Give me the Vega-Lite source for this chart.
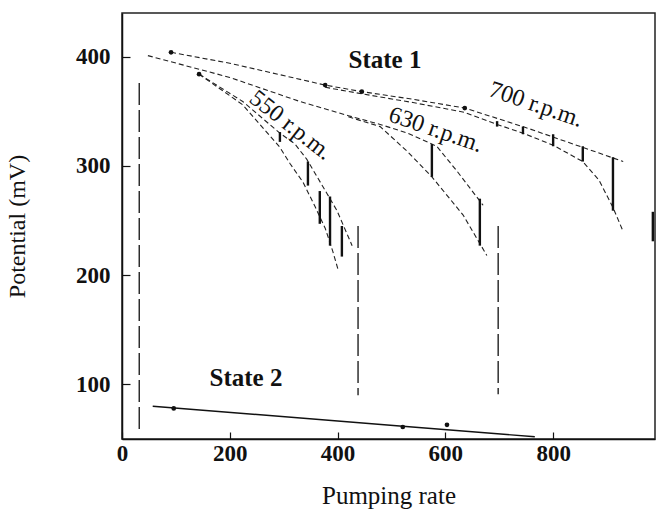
{
  "$schema": "https://vega.github.io/schema/vega-lite/v6.json",
  "width": 533,
  "height": 426,
  "autosize": {"type": "none"},
  "padding": {"left": 122, "top": 13, "right": 1, "bottom": 76},
  "background": "white",
  "config": {
    "view": {"stroke": "#222", "strokeWidth": 1.5},
    "font": "Liberation Serif"
  },
  "datasets": {
    "curves": [
      {"s": "700u", "i": 1, "x": 91, "y": 404}, {"s": "700u", "i": 2, "x": 200, "y": 394}, {"s": "700u", "i": 3, "x": 377, "y": 374}, {"s": "700u", "i": 4, "x": 445, "y": 368}, {"s": "700u", "i": 5, "x": 540, "y": 361}, {"s": "700u", "i": 6, "x": 636, "y": 353}, {"s": "700u", "i": 7, "x": 750, "y": 335}, {"s": "700u", "i": 8, "x": 855, "y": 317}, {"s": "700u", "i": 9, "x": 930, "y": 304},
      {"s": "700l", "i": 1, "x": 377, "y": 372}, {"s": "700l", "i": 2, "x": 445, "y": 366}, {"s": "700l", "i": 3, "x": 540, "y": 358}, {"s": "700l", "i": 4, "x": 636, "y": 349}, {"s": "700l", "i": 5, "x": 696, "y": 338}, {"s": "700l", "i": 6, "x": 744, "y": 330}, {"s": "700l", "i": 7, "x": 800, "y": 319}, {"s": "700l", "i": 8, "x": 855, "y": 304}, {"s": "700l", "i": 9, "x": 885, "y": 287}, {"s": "700l", "i": 10, "x": 911, "y": 262}, {"s": "700l", "i": 11, "x": 929, "y": 241},
      {"s": "630u", "i": 1, "x": 48, "y": 401}, {"s": "630u", "i": 2, "x": 200, "y": 381}, {"s": "630u", "i": 3, "x": 330, "y": 359}, {"s": "630u", "i": 4, "x": 420, "y": 346}, {"s": "630u", "i": 5, "x": 479, "y": 338}, {"s": "630u", "i": 6, "x": 530, "y": 330}, {"s": "630u", "i": 7, "x": 584, "y": 318}, {"s": "630u", "i": 8, "x": 622, "y": 295}, {"s": "630u", "i": 9, "x": 670, "y": 264},
      {"s": "630l", "i": 1, "x": 420, "y": 345}, {"s": "630l", "i": 2, "x": 479, "y": 336}, {"s": "630l", "i": 3, "x": 530, "y": 313}, {"s": "630l", "i": 4, "x": 575, "y": 290}, {"s": "630l", "i": 5, "x": 633, "y": 255}, {"s": "630l", "i": 6, "x": 677, "y": 218},
      {"s": "550u", "i": 1, "x": 143, "y": 384}, {"s": "550u", "i": 2, "x": 224, "y": 359}, {"s": "550u", "i": 3, "x": 293, "y": 330}, {"s": "550u", "i": 4, "x": 321, "y": 320}, {"s": "550u", "i": 5, "x": 343, "y": 306}, {"s": "550u", "i": 6, "x": 380, "y": 275}, {"s": "550u", "i": 7, "x": 399, "y": 259}, {"s": "550u", "i": 8, "x": 427, "y": 227},
      {"s": "550l", "i": 1, "x": 143, "y": 384}, {"s": "550l", "i": 2, "x": 224, "y": 356}, {"s": "550l", "i": 3, "x": 293, "y": 317}, {"s": "550l", "i": 4, "x": 312, "y": 302}, {"s": "550l", "i": 5, "x": 336, "y": 285}, {"s": "550l", "i": 6, "x": 358, "y": 263}, {"s": "550l", "i": 7, "x": 377, "y": 243}, {"s": "550l", "i": 8, "x": 391, "y": 222}, {"s": "550l", "i": 9, "x": 401, "y": 205}
    ],
    "bars": [
      {"x": 293, "y": 331, "y2": 322}, {"x": 345, "y": 304, "y2": 282}, {"x": 367, "y": 277, "y2": 247}, {"x": 386, "y": 272, "y2": 227}, {"x": 408, "y": 245, "y2": 217},
      {"x": 575, "y": 320, "y2": 290}, {"x": 664, "y": 270, "y2": 227},
      {"x": 696, "y": 341, "y2": 336}, {"x": 744, "y": 336, "y2": 329}, {"x": 800, "y": 329, "y2": 318}, {"x": 855, "y": 318, "y2": 304}, {"x": 911, "y": 308, "y2": 259},
      {"x": 985, "y": 258, "y2": 231}
    ],
    "vdash": [
      {"x": 32, "y": 376, "y2": 56}, {"x": 438, "y": 245, "y2": 90}, {"x": 698, "y": 245, "y2": 91}
    ],
    "state2": [
      {"i": 1, "x": 57, "y": 80}, {"i": 2, "x": 521, "y": 61.7}, {"i": 3, "x": 766, "y": 52}
    ],
    "dots": [
      {"x": 91, "y": 404}, {"x": 143, "y": 384}, {"x": 377, "y": 374}, {"x": 445, "y": 368}, {"x": 636, "y": 353},
      {"x": 96, "y": 78}, {"x": 521, "y": 61}, {"x": 603, "y": 63}
    ],
    "labels": [
      {"t": "State 1", "k": "state", "x": 488, "y": 397},
      {"t": "State 2", "k": "state", "x": 230, "y": 106},
      {"t": "550 r.p.m.", "k": "r550", "x": 313, "y": 337},
      {"t": "630 r.p.m.", "k": "r", "x": 582, "y": 333},
      {"t": "700 r.p.m.", "k": "r", "x": 768, "y": 356}
    ]
  },
  "layer": [
    {
      "data": {"name": "curves"},
      "mark": {"type": "line", "color": "#222", "strokeWidth": 1.1, "strokeDash": [5, 3]},
      "encoding": {
        "x": {
          "field": "x", "type": "quantitative",
          "scale": {"domain": [0, 989], "nice": false, "zero": false},
          "axis": {
            "title": "Pumping rate", "values": [0, 200, 400, 600, 800], "grid": false,
            "tickSize": -7, "labelPadding": 10, "labelFlush": false,
            "labelFont": "Liberation Serif", "labelFontWeight": "bold", "labelFontSize": 23, "labelColor": "#111",
            "domainColor": "#111", "domainWidth": 1.5, "tickColor": "#111", "tickWidth": 1.2,
            "titleFont": "Liberation Serif", "titleFontWeight": "normal", "titleFontSize": 25, "titleColor": "#111", "titlePadding": 18
          }
        },
        "y": {
          "field": "y", "type": "quantitative",
          "scale": {"domain": [50, 440], "nice": false, "zero": false},
          "axis": {
            "title": "Potential (mV)", "values": [100, 200, 300, 400], "grid": false,
            "tickSize": -8, "labelPadding": 20,
            "labelFont": "Liberation Serif", "labelFontWeight": "bold", "labelFontSize": 23, "labelColor": "#111",
            "domainColor": "#111", "domainWidth": 1.5, "tickColor": "#111", "tickWidth": 1.2,
            "titleFont": "Liberation Serif", "titleFontWeight": "normal", "titleFontSize": 24, "titleColor": "#111", "titlePadding": 46
          }
        },
        "detail": {"field": "s"},
        "order": {"field": "i", "type": "quantitative"}
      }
    },
    {
      "data": {"name": "vdash"},
      "mark": {"type": "rule", "color": "#222", "strokeWidth": 1.4, "strokeDash": [22, 5]},
      "encoding": {
        "x": {"field": "x", "type": "quantitative"},
        "y": {"field": "y", "type": "quantitative"},
        "y2": {"field": "y2"}
      }
    },
    {
      "data": {"name": "bars"},
      "mark": {"type": "rule", "color": "#111", "strokeWidth": 2.4},
      "encoding": {
        "x": {"field": "x", "type": "quantitative"},
        "y": {"field": "y", "type": "quantitative"},
        "y2": {"field": "y2"}
      }
    },
    {
      "data": {"name": "state2"},
      "mark": {"type": "line", "color": "#111", "strokeWidth": 1.4},
      "encoding": {
        "x": {"field": "x", "type": "quantitative"},
        "y": {"field": "y", "type": "quantitative"},
        "order": {"field": "i", "type": "quantitative"}
      }
    },
    {
      "data": {"name": "dots"},
      "mark": {"type": "point", "filled": true, "color": "#111", "size": 22, "opacity": 1},
      "encoding": {
        "x": {"field": "x", "type": "quantitative"},
        "y": {"field": "y", "type": "quantitative"}
      }
    },
    {
      "data": {"name": "labels"},
      "transform": [{"filter": "datum.k == 'state'"}],
      "mark": {"type": "text", "font": "Liberation Serif", "fontWeight": "bold", "fontSize": 25, "color": "#111", "align": "center", "baseline": "middle"},
      "encoding": {
        "x": {"field": "x", "type": "quantitative"},
        "y": {"field": "y", "type": "quantitative"},
        "text": {"field": "t"}
      }
    },
    {
      "data": {"name": "labels"},
      "transform": [{"filter": "datum.k == 'r550'"}],
      "mark": {"type": "text", "font": "Liberation Serif", "fontSize": 24, "color": "#111", "align": "center", "baseline": "middle", "angle": 38},
      "encoding": {
        "x": {"field": "x", "type": "quantitative"},
        "y": {"field": "y", "type": "quantitative"},
        "text": {"field": "t"}
      }
    },
    {
      "data": {"name": "labels"},
      "transform": [{"filter": "datum.k == 'r'"}],
      "mark": {"type": "text", "font": "Liberation Serif", "fontSize": 24, "color": "#111", "align": "center", "baseline": "middle", "angle": 19},
      "encoding": {
        "x": {"field": "x", "type": "quantitative"},
        "y": {"field": "y", "type": "quantitative"},
        "text": {"field": "t"}
      }
    }
  ]
}
